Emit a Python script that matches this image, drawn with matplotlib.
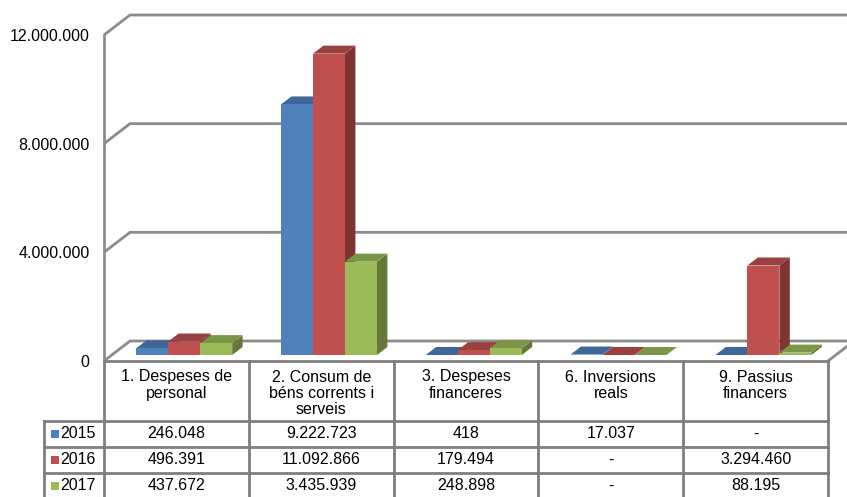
import matplotlib.pyplot as plt
from matplotlib.patches import Polygon, Rectangle
import numpy as np

plt.rcParams['font.family'] = ['Liberation Sans', 'DejaVu Sans']

# Dades
categories = ["1. Despeses de\npersonal",
              "2. Consum de\nbéns corrents i\nserveis",
              "3. Despeses\nfinanceres",
              "6. Inversions\nreals",
              "9. Passius\nfinancers"]
anys = ["2015", "2016", "2017"]
v2015 = [246048, 9222723, 418, 17037, 0]
v2016 = [496391, 11092866, 179494, 0, 3294460]
v2017 = [437672, 3435939, 248898, 0, 88195]
series = [v2015, v2016, v2017]
colors = ["#4F81BD", "#C0504D", "#9BBB59"]
yticks = [0, 4000000, 8000000, 12000000]

FS = 11.5


def fmt(v):
    if v == 0:
        return "-"
    return f"{v:,}".replace(",", ".")


def shade(c, f):
    r, g, b = [int(c[i:i + 2], 16) / 255 for i in (1, 3, 5)]
    return (r * f, g * f, b * f)


W, H = 847, 497
fig = plt.figure(figsize=(W / 100, H / 100), dpi=100)

# geometria en pixels
x_left, x_right = 104, 828      # pla frontal
y_zero, y_top = 361, 35         # 0 i 12.000.000 al pla frontal
col_w = (x_right - x_left) / len(categories)
px_per_val = (y_zero - y_top) / 12000000
depth_dx, depth_dy = 26, 20     # fons del gràfic

# eix del gràfic (x en categories, y en valors)
ax = fig.add_axes([x_left / W, (H - y_zero) / H, (W - x_left) / W, y_zero / H])
ax.set_xlim(-0.5, -0.5 + (W - x_left) / col_w)
ax.set_ylim(0, y_zero / px_per_val)
ax.patch.set_alpha(0)
DX = depth_dx / col_w
DY = depth_dy / px_per_val


def proj(x, y, d):
    return (x + d * DX, y + d * DY)


grid_c = "#8c8c8c"
xr = ax.get_xlim()[1]
for v in yticks:
    a = proj(-0.5, v, 0)
    b = proj(-0.5, v, 1)
    ax.plot([a[0], b[0], xr], [a[1], b[1], b[1]], color=grid_c, lw=2,
            solid_capstyle='butt', zorder=1)
# vora dreta del terra
a = proj(len(categories) - 0.5, 0, 0)
b = proj(len(categories) - 0.5, 0, 1)
ax.plot([a[0], b[0]], [a[1], b[1]], color=grid_c, lw=2, zorder=1)

# barres 3D
bw = 32 / col_w
d0, d1 = 0.3, 0.7
for i, cat in enumerate(categories):
    for k, (vals, c) in enumerate(zip(series, colors)):
        x0 = i + (k - 1.5) * bw
        x1 = x0 + bw
        h = vals[i]
        front = [proj(x0, 0, d0), proj(x1, 0, d0), proj(x1, h, d0), proj(x0, h, d0)]
        top = [proj(x0, h, d0), proj(x1, h, d0), proj(x1, h, d1), proj(x0, h, d1)]
        side = [proj(x1, 0, d0), proj(x1, 0, d1), proj(x1, h, d1), proj(x1, h, d0)]
        z = 3 + i * 3 + k
        ax.add_patch(Polygon(side, closed=True, fc=shade(c, 0.65), ec='none', zorder=z))
        ax.add_patch(Polygon(top, closed=True, fc=shade(c, 0.8), ec='none', zorder=z))
        ax.add_patch(Polygon(front, closed=True, fc=c, ec='none', zorder=z))

ax.set_xticks([])
ax.set_yticks(yticks)
ax.set_yticklabels([fmt(v) if v else "0" for v in yticks], fontsize=FS)
ax.tick_params(axis='y', length=0, pad=10.5)
for s in ['top', 'right', 'bottom']:
    ax.spines[s].set_visible(False)
ax.spines['left'].set_color(grid_c)
ax.spines['left'].set_linewidth(2)
ax.spines['left'].set_bounds(0, 12000000)

# taula de dades
tab = fig.add_axes([0, 0, 1, 1])
tab.set_xlim(0, W)
tab.set_ylim(H, 0)
tab.axis('off')
tab.patch.set_alpha(0)

line_c = "#7f7f7f"
leg_left = 44
row_y = [421, 447, 473, 499]
col_x = [x_left + j * col_w for j in range(len(categories) + 1)]

tab.plot([x_left, x_right], [y_zero, y_zero], color=line_c, lw=2)
for y in row_y:
    tab.plot([leg_left, x_right], [y, y], color=line_c, lw=2)
for x in col_x:
    tab.plot([x, x], [y_zero, H + 5], color=line_c, lw=2)
tab.plot([leg_left, leg_left], [row_y[0], H + 5], color=line_c, lw=2)

for j, cat in enumerate(categories):
    cx = (col_x[j] + col_x[j + 1]) / 2
    tab.text(cx, 369.5, cat, ha='center', va='top', fontsize=FS, linespacing=1.12)

for r, (name, vals, c) in enumerate(zip(anys, series, colors)):
    cy = (row_y[r] + row_y[r + 1]) / 2
    tab.add_patch(Rectangle((51, cy - 4), 7.5, 8, fc=c, ec='none'))
    tab.text(60.5, cy, name, ha='left', va='center', fontsize=FS)
    for j, v in enumerate(vals):
        cx = (col_x[j] + col_x[j + 1]) / 2
        tab.text(cx, cy, fmt(v), ha='center', va='center', fontsize=FS)

fig.savefig("out.png", dpi=100)
